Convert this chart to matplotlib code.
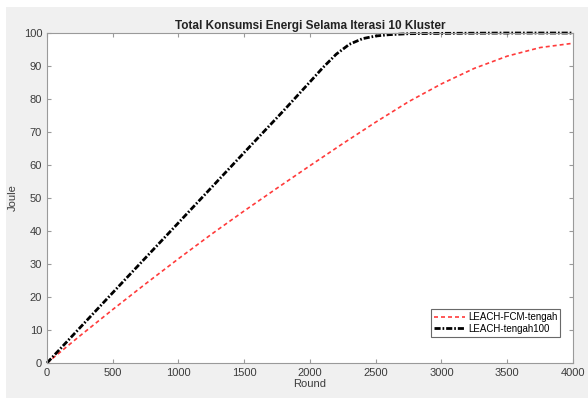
import numpy as np
import matplotlib.pyplot as plt
from matplotlib.patches import Rectangle

plt.rcParams['font.family'] = ['Liberation Sans', 'DejaVu Sans']

# data
rnd_fcm = [0, 250, 500, 750, 1000, 1250, 1500, 1750, 2000, 2250, 2500, 2750,
           3000, 3250, 3500, 3750, 4000]
fcm = [0, 8.2, 16.2, 24.0, 31.6, 39.0, 46.1, 53.0, 59.8, 66.5, 73.0, 79.2,
       84.6, 89.3, 93.0, 95.6, 96.9]

rnd_leach = [0, 500, 1000, 1500, 1800, 2000, 2100, 2200, 2300, 2400, 2500,
             2600, 2750, 3000, 3500, 4000]
leach = [0, 21.3, 42.5, 63.8, 76.5, 85.2, 89.6, 93.6, 96.6, 98.3, 99.1,
         99.5, 99.8, 99.9, 100, 100]

fig = plt.figure(figsize=(5.88, 3.98), dpi=100, facecolor='#f0f0f0')
fig.patches.append(Rectangle((0, 0.982), 1, 0.018, transform=fig.transFigure,
                             facecolor='white', edgecolor='none', zorder=-1))
fig.patches.append(Rectangle((0, 0), 0.011, 1, transform=fig.transFigure,
                             facecolor='white', edgecolor='none', zorder=-1))

ax = fig.add_axes([0.0799, 0.088, 0.8946, 0.829])
ax.plot(rnd_fcm, fcm, color='#ff3b3b', lw=1.2, dashes=(2.4, 1.8),
        label='LEACH-FCM-tengah')
ax.plot(rnd_leach, leach, color='black', lw=2.0, dashes=(2.2, 0.7, 0.6, 0.7),
        label='LEACH-tengah100', clip_on=False)

ax.set_xlim(0, 4000)
ax.set_ylim(0, 100)
ax.set_xticks(np.arange(0, 4001, 500))
ax.set_yticks(np.arange(0, 101, 10))

axis_col = '#9a9a9a'
for s in ax.spines.values():
    s.set_color(axis_col)
    s.set_linewidth(0.8)
ax.tick_params(direction='in', length=3, colors=axis_col, labelcolor='#3c3c3c',
               labelsize=8, top=True, right=True)

ax.set_title('Total Konsumsi Energi Selama Iterasi 10 Kluster', fontsize=8.5,
             fontweight='bold', color='#222222', pad=3)
ax.set_xlabel('Round', fontsize=8, color='#3c3c3c', labelpad=1)
ax.set_ylabel('Joule', fontsize=8, color='#3c3c3c', labelpad=4)

leg = ax.legend(loc='lower right', fontsize=7, frameon=True, fancybox=False,
                borderpad=0.3, handlelength=3.2, handletextpad=0.3,
                labelspacing=0.15, bbox_to_anchor=(0.985, 0.065))
leg.get_frame().set_edgecolor('#444444')
leg.get_frame().set_linewidth(0.8)

fig.savefig('out.png', dpi=100, facecolor=fig.get_facecolor())
